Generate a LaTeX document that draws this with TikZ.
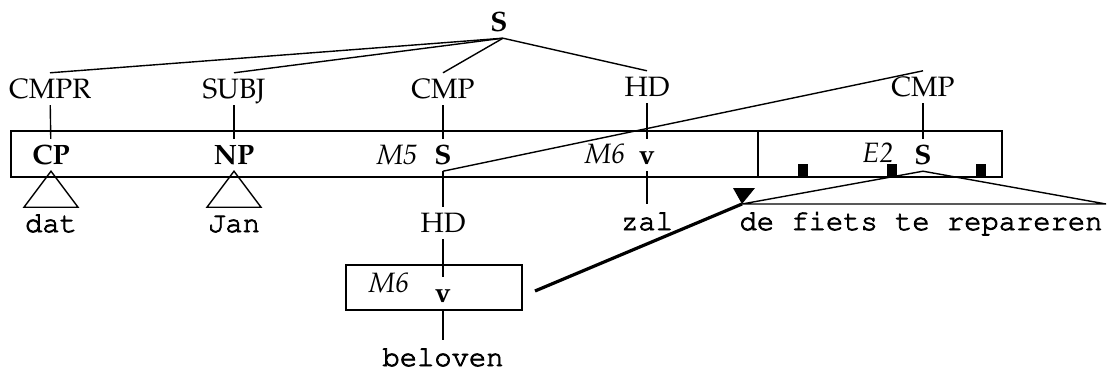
\documentclass[tikz,border=0pt]{standalone}
\usepackage[T1]{fontenc}
\usepackage{mathpazo}
\usepackage{courier}
\usepackage{tikz}
% a little heavier Courier, as in the picture
\newcommand\heavytt[1]{\special{pdf:literal direct 2 Tr 0.4 w}#1\special{pdf:literal direct 0 Tr}}

\begin{document}
\begin{tikzpicture}[x=0.5pt,y=-0.5pt,line width=0.7pt,
  every node/.style={inner sep=3pt,font=\fontsize{14}{16}\selectfont,text height=9.5pt,text depth=0pt},
  catnode/.style={font=\fontsize{14}{16}\selectfont\bfseries},
  tag/.style={font=\fontsize{14}{16}\selectfont\itshape},
  word/.style={font=\ttfamily\fontsize{14.4}{16}\selectfont,anchor=base}]
  \useasboundingbox (0,0) rectangle (1107,370);

  % top of the tree
  \node[catnode] (s) at (499,22) {S};
  \node (cmpr) at (50,89) {CMPR};
  \node (subj) at (234,89) {SUBJ};
  \node (cmp) at (443,89) {CMP};
  \node (hd) at (647,87) {HD};
  \node (cmp2) at (923,87) {CMP};

  % the long box
  \draw (11,131) rectangle (1002,177);
  \draw (758,131) -- (758,177);
  \foreach \x in {803,892,981}
    \fill (\x-5,164) rectangle (\x+5,177);

  \node[catnode] (cp) at (51,155) {CP};
  \node[catnode] (np) at (234,155) {NP};
  \node[tag] (m5) at (397,155) {M5};
  \node[catnode] (s1) at (443,155) {S};
  \node[tag] (m6) at (605,154) {M6};
  \node[catnode] (v1) at (647,155) {v};
  \node[tag] (e2) at (878,153) {E2};
  \node[catnode] (s2) at (923,155) {S};

  \node[word] (dat) at (51,232) {\heavytt{dat}};
  \node[word] (jan) at (234,232) {\heavytt{Jan}};
  \node[word] (zal) at (647,230) {\heavytt{zal}};
  \node[word] (fiets) at (921,230) {\heavytt{de fiets te repareren}};
  \node (hd2) at (443,223) {HD};

  % the small box
  \draw (346,265) rectangle (522,310);
  \node[tag] (m6b) at (389,283) {M6};
  \node[catnode] (v2) at (443,293) {v};
  \node[word] (bel) at (443,366) {\heavytt{beloven}};

  \draw ([xshift=2]s.south) -- (cmpr.north);
  \draw ([xshift=2]s.south) -- (subj.north);
  \draw ([xshift=2]s.south) -- (cmp.north);
  \draw ([xshift=2]s.south) -- (hd.north);

  \draw (cmpr) -- (cp);
  \draw (subj) -- (np);
  \draw (cmp) -- (s1);
  \draw (hd) -- (v1);
  \draw (cmp2) -- (s2);
  \draw (v1) -- (zal);
  \draw (s1) -- (hd2);
  \draw (hd2) -- (v2);
  \draw (v2) -- (bel);
  \draw (s1.south) -- (cmp2.north);

  \draw (cp.south) -- ++(-27,36) -- ++(54,0) -- cycle;
  \draw (np.south) -- ++(-27,36) -- ++(54,0) -- cycle;
  \coordinate (tl) at (742,204);
  \coordinate (tr) at (1106,204);
  \draw (s2.south) -- (tl) -- (tr) -- cycle;

  \coordinate (arr) at (535,291);
  \draw[line width=1.6pt] (arr) -- (tl);
  \fill (tl) -- ++(-9,-16) -- ++(22,0) -- cycle;
\end{tikzpicture}
\end{document}
